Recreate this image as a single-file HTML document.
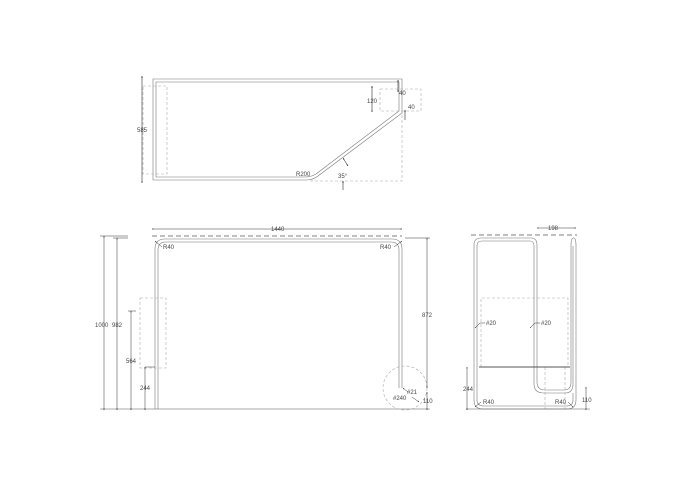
<!DOCTYPE html>
<html><head><style>html,body{margin:0;padding:0;background:#fff}svg{display:block}text{font-family:"Liberation Sans",sans-serif;font-size:6px;fill:#444}</style></head><body>
<svg width="688" height="489" viewBox="0 0 688 489" xmlns="http://www.w3.org/2000/svg">
<defs><marker id="a" viewBox="0 0 6 6" refX="6" refY="3" markerWidth="3.5" markerHeight="3.5" orient="auto-start-reverse"><path d="M0,1L6,3L0,5z" fill="#000"/></marker></defs>
<g fill="none" stroke="#777" stroke-width="0.6">
<!-- TOP VIEW -->
<path d="M153,79H402V113L318,176Q313,180 306,180H153Z"/>
<path d="M156,82H399V111L316,174Q311,177 305,177H156Z"/>
<g stroke="#aaa" stroke-dasharray="3,2">
<rect x="143" y="86" width="24" height="88"/>
<rect x="380" y="89" width="41" height="22"/>
<path d="M310,181H402V113"/>
</g>
<g stroke="#000" stroke-width="0.5"><path d="M142,76V183" marker-start="url(#a)" marker-end="url(#a)"/>
<path d="M372,86V112" marker-start="url(#a)" marker-end="url(#a)"/><path d="M398,80V92" marker-start="url(#a)" marker-end="url(#a)"/><path d="M405,110V120" marker-start="url(#a)"/></g>
<path d="M343,158L348,166" stroke="#000" stroke-width="0.5" marker-start="url(#a)" marker-end="url(#a)"/><path d="M343,181V190" stroke="#000" stroke-width="0.5" marker-start="url(#a)"/>
<!-- FRONT VIEW -->
<path d="M155,409V249Q155,239 165,239H392Q402,239 402,249V388"/>
<path d="M158,409V250Q158,242 166,242H391Q399,242 399,250V388"/>
<path d="M100,409H430" stroke="#555"/>
<path d="M152,236H402" stroke="#999" stroke-width="1.3" stroke-dasharray="5,3"/>
<g stroke="#aaa" stroke-dasharray="3,2"><rect x="140" y="298" width="26" height="70"/><circle cx="405" cy="388" r="22"/></g>
<g stroke="#000" stroke-width="0.4">
<path d="M152,229H402" marker-start="url(#a)" marker-end="url(#a)"/>
<path d="M104,236V410" marker-start="url(#a)" marker-end="url(#a)"/><path d="M100,236H128"/>
<path d="M117,238V410" marker-start="url(#a)" marker-end="url(#a)"/><path d="M113,238H128"/>
<path d="M131,311V410" marker-start="url(#a)" marker-end="url(#a)"/><path d="M128,311H136"/>
<path d="M145,367V410" marker-start="url(#a)" marker-end="url(#a)"/><path d="M145,367H155"/>
<path d="M427,238V388" marker-start="url(#a)" marker-end="url(#a)"/><path d="M405,238H430"/>
<path d="M427,392V410" marker-start="url(#a)" marker-end="url(#a)"/>
<path d="M162,247L155,241" marker-end="url(#a)"/><path d="M394,247L402,241" marker-end="url(#a)"/><path d="M412,397L419,402" marker-end="url(#a)"/><path d="M408,392L403,388" marker-end="url(#a)"/>
</g>
<!-- SIDE VIEW -->
<path d="M576,245V400Q576,409 567,409H483Q474,409 474,400V245Q474,238 481,238H531Q537,238 537,245V382Q537,390 545,390H564Q571,390 571,382V245Q571,238 573.5,238Q576,238 576,245Z"/>
<path d="M477,400V246Q477,241 482,241H530Q534,241 534,246V384Q534,393 544,393H565Q573,393 573,384V246"/>
<path d="M477,400Q477,406 484,406H566Q573,406 573,400V393"/>
<path d="M471,235H577" stroke="#999" stroke-width="1.3" stroke-dasharray="5,3"/>
<g stroke="#aaa" stroke-dasharray="3,2"><path d="M481,367V298H568V367"/><path d="M545,367V409M565,367V409"/></g>
<path d="M479,367H570" stroke="#555" stroke-width="0.9"/>
<path d="M466,409H590" stroke="#555"/>
<g stroke="#000" stroke-width="0.4">
<path d="M537,228H576" marker-start="url(#a)" marker-end="url(#a)"/>
<path d="M467,367V410" marker-start="url(#a)" marker-end="url(#a)"/>
<path d="M586,387V410" marker-start="url(#a)" marker-end="url(#a)"/>
<path d="M485,323H480L475,328" marker-end="url(#a)"/><path d="M540,323H535L530,328" marker-end="url(#a)"/>
<path d="M481,402L475,407" marker-end="url(#a)"/><path d="M568,402L573,407" marker-end="url(#a)"/>
</g>
</g>
<g>
<text x="137" y="132">585</text>
<text x="367" y="103">120</text><text x="399" y="95">40</text><text x="408" y="109">40</text>
<text x="296" y="176">R200</text><text x="338" y="178">35°</text>
<text x="271" y="231">1440</text>
<text x="95" y="327">1000</text><text x="112" y="327">982</text>
<text x="126" y="363">564</text><text x="140" y="390">244</text>
<text x="163" y="249">R40</text><text x="380" y="249">R40</text>
<text x="422" y="317">872</text><text x="423" y="403">110</text>
<text x="393" y="400">#240</text><text x="407" y="394">#21</text>
<text x="548" y="230">198</text>
<text x="486" y="325">#20</text><text x="541" y="325">#20</text>
<text x="463" y="391">244</text><text x="483" y="404">R40</text><text x="555" y="404">R40</text>
<text x="582" y="402">110</text>
</g>
</svg>
</body></html>
